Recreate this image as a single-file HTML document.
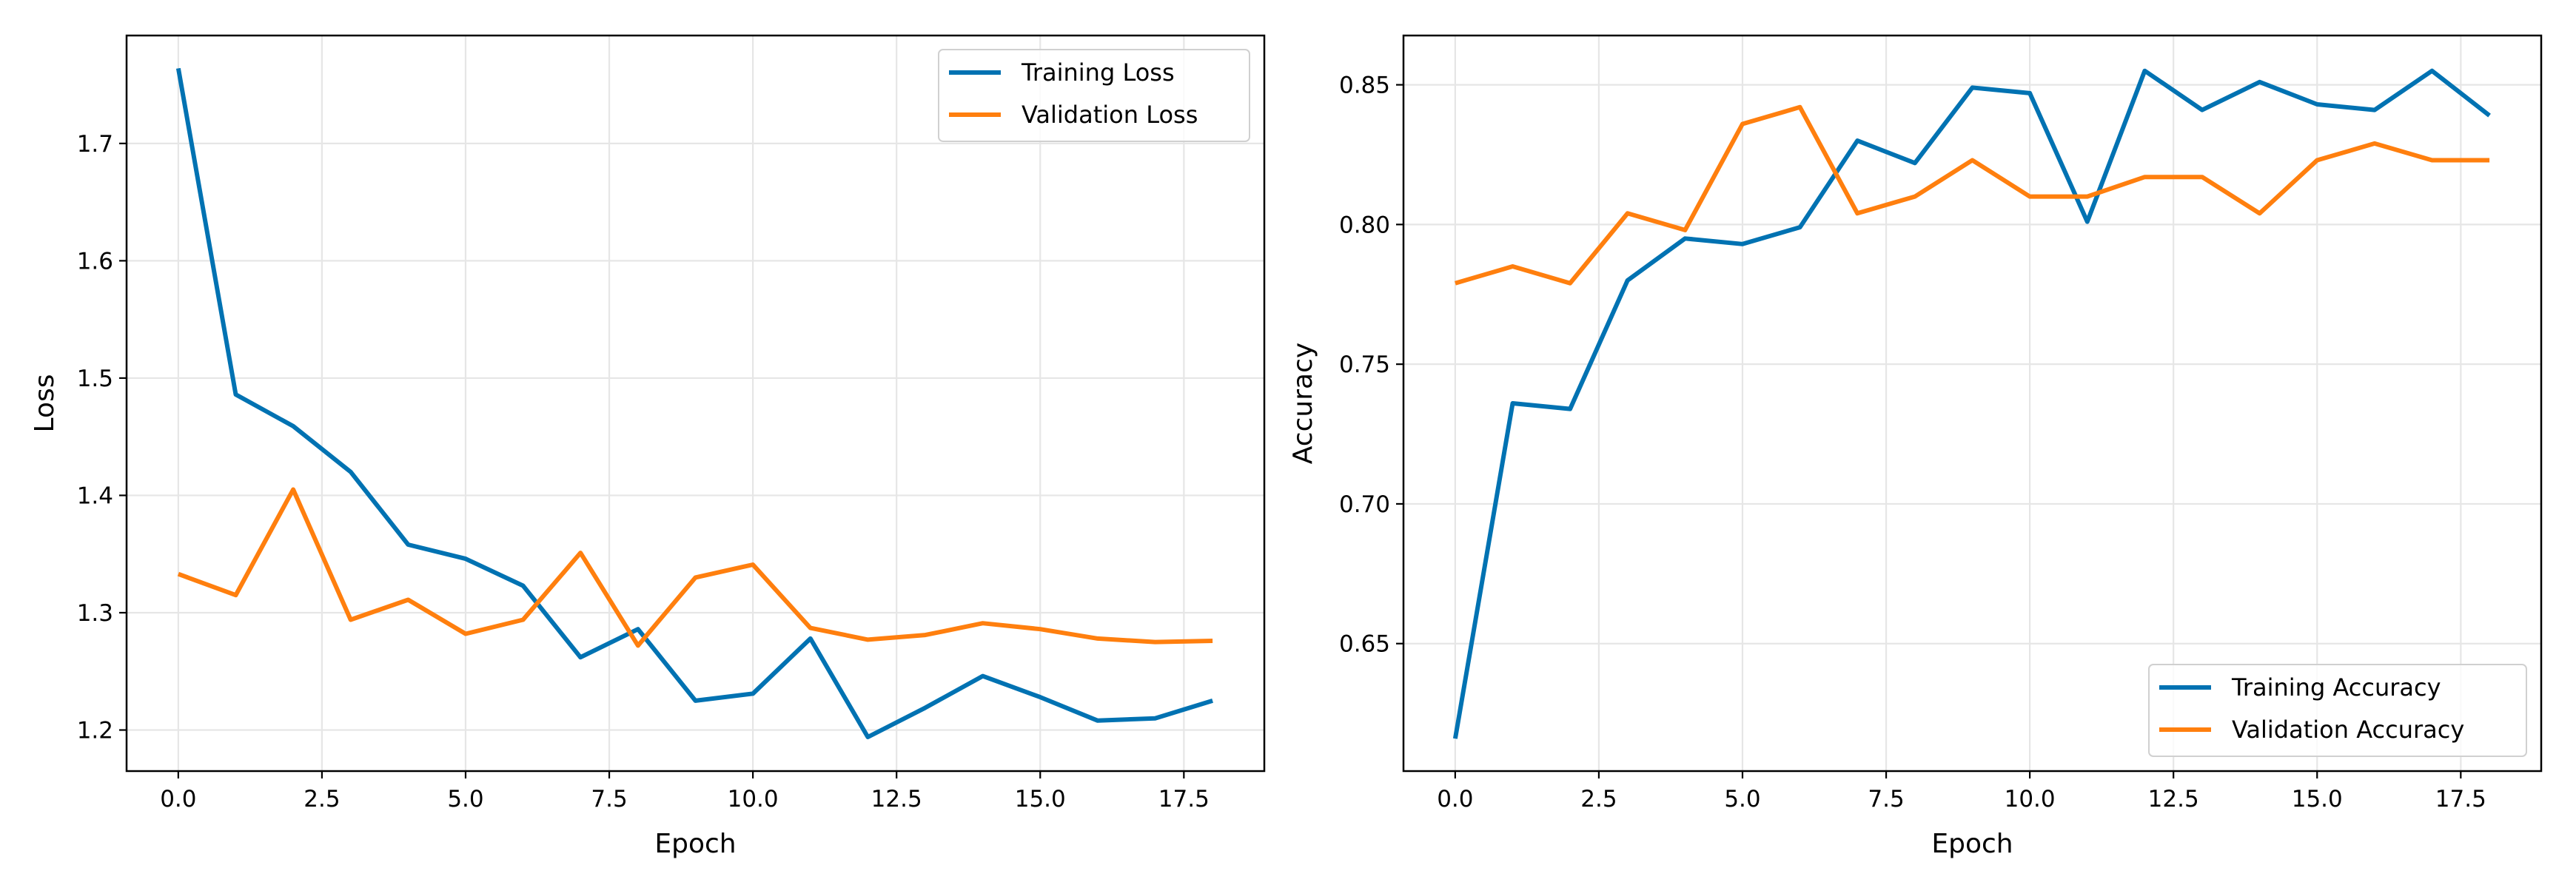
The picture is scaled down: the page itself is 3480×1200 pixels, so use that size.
<!DOCTYPE html>
<html><head><meta charset="utf-8"><style>
body{margin:0;background:#fff;}
svg{display:block;font-family:"DejaVu Sans","Liberation Sans",sans-serif;}
</style></head><body>
<svg id="c" width="3480" height="1200" viewBox="0 0 3480 1200" xmlns="http://www.w3.org/2000/svg"></svg>
<script>
const epochs = [0,1,2,3,4,5,6,7,8,9,10,11,12,13,14,15,16,17,18];
const trainLoss = [1.764,1.486,1.459,1.420,1.358,1.346,1.323,1.262,1.286,1.225,1.231,1.278,1.194,1.219,1.246,1.228,1.208,1.210,1.225];
const valLoss = [1.333,1.315,1.405,1.294,1.311,1.282,1.294,1.351,1.272,1.330,1.341,1.287,1.277,1.281,1.291,1.286,1.278,1.275,1.276];
const trainAcc = [0.616,0.736,0.734,0.780,0.795,0.793,0.799,0.830,0.822,0.849,0.847,0.801,0.855,0.841,0.851,0.843,0.841,0.855,0.839];
const valAcc = [0.779,0.785,0.779,0.804,0.798,0.836,0.842,0.804,0.810,0.823,0.810,0.810,0.817,0.817,0.804,0.823,0.829,0.823,0.823];
const xTicks = [0,2.5,5,7.5,10,12.5,15,17.5];
const xTickLabels = ["0.0","2.5","5.0","7.5","10.0","12.5","15.0","17.5"];
const lossTicks = [1.2,1.3,1.4,1.5,1.6,1.7];
const lossTickLabels = ["1.2","1.3","1.4","1.5","1.6","1.7"];
const accTicks = [0.65,0.70,0.75,0.80,0.85];
const accTickLabels = ["0.65","0.70","0.75","0.80","0.85"];

const NS="http://www.w3.org/2000/svg";
const svg=document.getElementById('c');
function mk(tag,attrs,parent){const e=document.createElementNS(NS,tag);for(const k in attrs)e.setAttribute(k,attrs[k]);(parent||svg).appendChild(e);return e;}

function panel(o){
  const g=mk('g',{});
  
  
  const sx=v=>o.L+(v-o.x0)/(o.x1-o.x0)*(o.R-o.L);
  const sy=v=>o.B-(v-o.y0)/(o.y1-o.y0)*(o.B-o.T);
  // grid
  xTicks.forEach((t,i)=>{
    const l=mk('line',{x1:sx(t),x2:sx(t),y1:o.T,y2:o.B,stroke:'#e6e6e6','stroke-width':2.2},g);
    
    
  });
  o.yt.forEach(t=>{
    const l=mk('line',{x1:o.L,x2:o.R,y1:sy(t),y2:sy(t),stroke:'#e6e6e6','stroke-width':2.2},g);
    
    
  });
  // series
  o.series.forEach(s=>{
    const d=epochs.map((e,i)=>(i?'L':'M')+sx(e).toFixed(1)+','+sy(s.v[i]).toFixed(1)).join(' ');
    const p=mk('path',{d:d,fill:'none',stroke:s.c,'stroke-width':6,'stroke-linejoin':'round'},g);
    
    
  });
  // frame
  const fr=mk('rect',{x:o.L,y:o.T,width:o.R-o.L,height:o.B-o.T,fill:'none',stroke:'#000','stroke-width':2.5},g);
  
  
  // ticks
  xTicks.forEach((t,i)=>{
    mk('line',{x1:sx(t),x2:sx(t),y1:o.B,y2:o.B+10,stroke:'#000','stroke-width':2.2},g);
    const tx=mk('text',{x:sx(t),y:o.B+48,'text-anchor':'middle','font-size':31,fill:'#000'},g);
    tx.textContent=xTickLabels[i];
    
    
  });
  o.yt.forEach((t,i)=>{
    mk('line',{x1:o.L-10,x2:o.L,y1:sy(t),y2:sy(t),stroke:'#000','stroke-width':2.2},g);
    const tx=mk('text',{x:o.L-18,y:sy(t)+11,'text-anchor':'end','font-size':31,fill:'#000'},g);
    tx.textContent=o.ytl[i];
    
    
  });
  const xl=mk('text',{x:(o.L+o.R)/2,y:o.B+110,'text-anchor':'middle','font-size':36,fill:'#000'},g);
  xl.textContent='Epoch';
  
  
  const yl=mk('text',{x:o.ylx,y:(o.T+o.B)/2,'text-anchor':'middle','font-size':36,fill:'#000',transform:`rotate(-90 ${o.ylx} ${(o.T+o.B)/2})`},g);
  yl.textContent=o.ylabel;
  
  
  // legend
  const lg=mk('g',{},g);
  
  
  mk('rect',{x:o.lx,y:o.ly,width:o.lw,height:124,rx:6,fill:'#fff','fill-opacity':0.8,stroke:'#d0d0d0','stroke-width':2},lg);
  o.series.forEach((s,i)=>{
    const yy=o.ly+31+i*57;
    mk('line',{x1:o.lx+14,x2:o.lx+84,y1:yy,y2:yy,stroke:s.c,'stroke-width':6},lg);
    const t=mk('text',{x:o.lx+112,y:yy+11,'font-size':32,fill:'#000'},lg);
    t.textContent=s.label;
    
    
  });
}
panel({name:'loss-chart',L:171,R:1708,T:48,B:1042,x0:-0.9,x1:18.9,y0:1.165,y1:1.792,yt:lossTicks,ytl:lossTickLabels,ylabel:'Loss',ylx:72,
  lx:1268,ly:67,lw:420,
  series:[{n:'training-loss-line',label:'Training Loss',c:'#0072B2',v:trainLoss},{n:'validation-loss-line',label:'Validation Loss',c:'#FF7F0E',v:valLoss}]});
panel({name:'accuracy-chart',L:1896,R:3433,T:48,B:1042,x0:-0.9,x1:18.9,y0:0.65-(1042-869.7)/188.8*0.05,y1:0.85+(114.6-48)/188.8*0.05,yt:accTicks,ytl:accTickLabels,ylabel:'Accuracy',ylx:1772,
  lx:2903,ly:898,lw:510,
  series:[{n:'training-accuracy-line',label:'Training Accuracy',c:'#0072B2',v:trainAcc},{n:'validation-accuracy-line',label:'Validation Accuracy',c:'#FF7F0E',v:valAcc}]});
</script>
</body></html>
